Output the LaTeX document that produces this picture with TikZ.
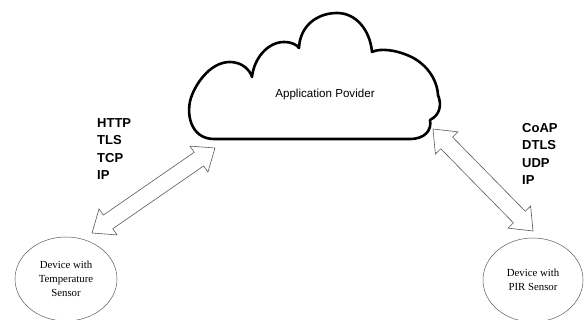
\documentclass[tikz,border=0pt]{standalone}
\usepackage{fontspec}
\setmainfont{Liberation Serif}
\newfontfamily\labelfont{Liberation Sans}
\usepackage{tikz}
\usetikzlibrary{shapes.geometric, shapes.arrows, calc}
\definecolor{linegray}{rgb}{0.35, 0.35, 0.35}

\tikzset{
  device/.style={ellipse, draw=linegray, line width=0.5pt, minimum width=102pt,
    minimum height=84pt, align=center, font=\fontsize{10.8}{14}\selectfont},
  fatarrow/.style={double arrow, draw=linegray, line width=0.6pt, inner sep=8pt,
    minimum width=31pt, double arrow head extend=7.5pt, double arrow tip angle=78,
    double arrow head indent=0pt},
  protocols/.style={anchor=west, align=left, inner sep=0pt,
    font=\labelfont\bfseries\fontsize{13}{17.5}\selectfont}
}

\newcommand{\linkarrow}[2]{%
  \path let \p1=($(#2)-(#1)$), \n1={veclen(\x1,\y1)}, \n2={atan2(\y1,\x1)} in
    node[fatarrow, minimum height=\n1, rotate=\n2] at ($(#1)!0.5!(#2)$) {};}

\begin{document}
\begin{tikzpicture}[x=1pt, y=1pt]
    \useasboundingbox (0,0) rectangle (584,-320);

    % Nuage
    \draw[line width=2.6pt, line join=round]
      (214,-139) .. controls (190,-139) and (185,-112) .. (192,-95)
      .. controls (198,-80) and (212,-62) .. (230,-62)
      .. controls (242,-62) and (250,-70) .. (252,-77)
      .. controls (254,-58) and (268,-42) .. (284,-42)
      .. controls (292,-42) and (297,-45) .. (299,-48)
      .. controls (300,-25) and (318,-13) .. (337,-13)
      .. controls (356,-13) and (370,-30) .. (372,-52)
      .. controls (380,-48) and (395,-50) .. (407,-55)
      .. controls (425,-62) and (437,-78) .. (438,-95)
      .. controls (442,-105) and (440,-115) .. (430,-120)
      .. controls (432,-130) and (425,-139) .. (410,-139)
      -- cycle;
    \node[font=\labelfont\fontsize{11.6}{14}\selectfont] (cloud) at (325,-95) {Application Povider};

    % Appareils
    \node[device] (tempdev) at (66,-279) {Device with\\Temperature\\Sensor};
    \node[device, minimum width=100pt] (pirdev) at (533,-280) {Device with\\PIR Sensor};

    % Extremites des fleches
    \coordinate (tempend) at (92,-233);
    \coordinate (cloudleft) at (215,-148);
    \coordinate (cloudright) at (433,-129);
    \coordinate (pirend) at (533,-231);

    % Fleches doubles
    \linkarrow{tempend}{cloudleft}
    \linkarrow{cloudright}{pirend}

    % Protocoles
    \node[protocols] (httpstack) at (97,-149) {HTTP\\TLS\\TCP\\IP};
    \node[protocols] (coapstack) at (522,-154) {CoAP\\DTLS\\UDP\\IP};
\end{tikzpicture}
\end{document}
